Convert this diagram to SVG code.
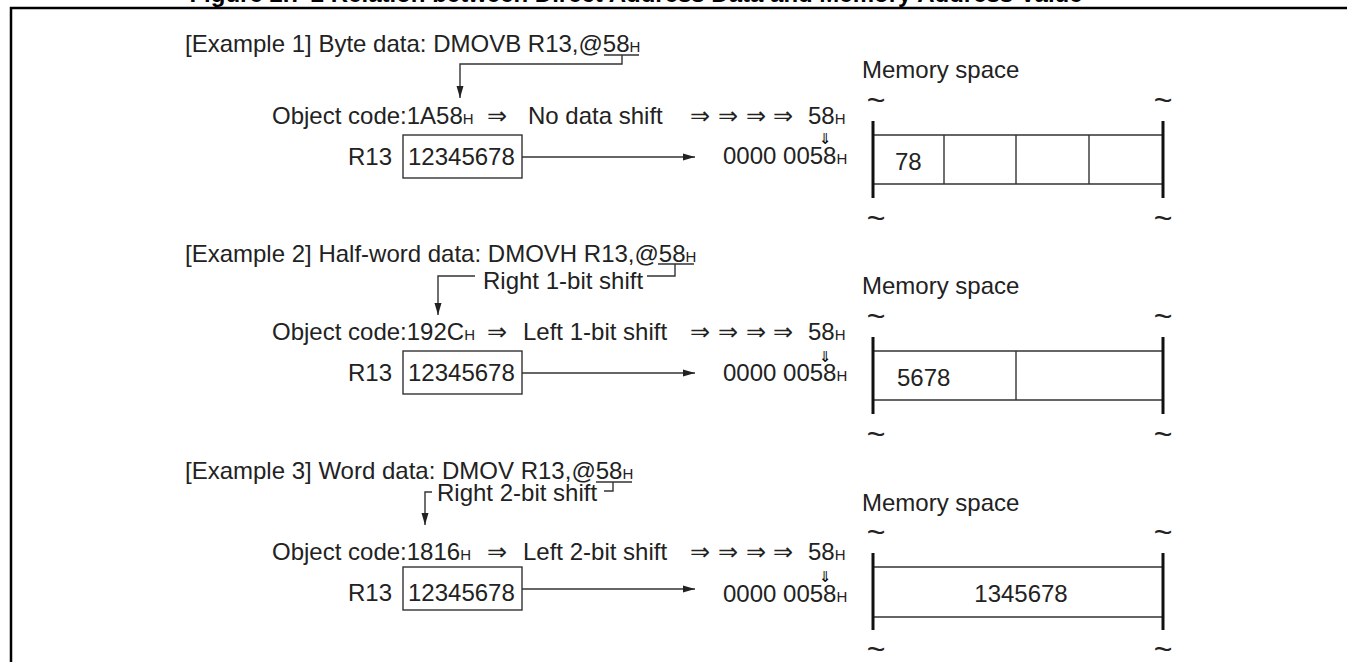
<svg xmlns="http://www.w3.org/2000/svg" width="1347" height="662" viewBox="0 0 1347 662">
<style>
text{font-family:"Liberation Sans","DejaVu Sans",Arial,sans-serif;fill:#222;font-size:24px}
.t{font-size:24px;font-weight:bold;fill:#000}
.h{font-size:15px}
.s{font-family:"DejaVu Sans","Noto Sans",sans-serif;font-size:15px;fill:#000}
.tl{font-size:32px}
.ln{stroke:#333;stroke-width:1.4;fill:none}
.bar{stroke:#111;stroke-width:3;fill:none}
.frame{stroke:#000;stroke-width:2.5;fill:none}
.box{stroke:#333;stroke-width:1.4;fill:#fff}
</style>
<defs>
<marker id="ah" markerUnits="userSpaceOnUse" markerWidth="12" markerHeight="8" refX="12" refY="4" orient="auto">
<path d="M0,0.5 L12,4 L0,7.5 z" fill="#222"/>
</marker>
</defs>
<rect width="1347" height="662" fill="#fff"/>
<g id="title"><text class="t" x="636" y="2" text-anchor="middle">Figure 2.7-2 Relation between Direct Address Data and Memory Address Value</text></g>
<g id="frame"><path class="frame" d="M11,662 V8 H1347"/></g>

<!-- Example 1 -->
<g id="ex1-header"><text x="185" y="52">[Example 1] Byte data: DMOVB R13,@58<tspan class="h">H</tspan></text></g>
<g id="ex1-code"><text x="272" y="124">Object code:1A58<tspan class="h">H</tspan></text>
<text x="497" y="124" text-anchor="middle">⇒</text>
<text x="528" y="124">No data shift</text>
<text x="700" y="124" text-anchor="middle">⇒</text><text x="728" y="124" text-anchor="middle">⇒</text><text x="756" y="124" text-anchor="middle">⇒</text><text x="783" y="124" text-anchor="middle">⇒</text>
<text x="808" y="124">58<tspan class="h">H</tspan></text>
<text class="s" x="825" y="144" text-anchor="middle">⇓</text></g>
<g id="ex1-r13"><text x="348" y="165">R13</text><rect class="box" x="403" y="135" width="119" height="43"/><text x="408" y="165">12345678</text></g>
<g id="ex1-addr"><text x="723" y="164">0000 0058<tspan class="h">H</tspan></text></g>
<g id="ex1-memory">
<text x="862" y="78">Memory space</text>
<text class="tl" x="876" y="111" text-anchor="middle">~</text><text class="tl" x="1163" y="111" text-anchor="middle">~</text>
<path class="ln" d="M873,135 H1163 M873,184 H1163 M944,135 V184 M1016,135 V184 M1089,135 V184"/>
<path class="bar" d="M873,121 V198 M1163,121 V198"/>
<text x="895" y="170">78</text>
<text class="tl" x="876" y="229" text-anchor="middle">~</text><text class="tl" x="1163" y="229" text-anchor="middle">~</text>
</g>

<!-- Example 2 -->
<g id="ex2-header"><text x="185" y="262">[Example 2] Half-word data: DMOVH R13,@58<tspan class="h">H</tspan></text>
<text x="483" y="289">Right 1-bit shift</text></g>
<g id="ex2-code"><text x="272" y="340">Object code:192C<tspan class="h">H</tspan></text>
<text x="497" y="340" text-anchor="middle">⇒</text>
<text x="523" y="340">Left 1-bit shift</text>
<text x="700" y="340" text-anchor="middle">⇒</text><text x="728" y="340" text-anchor="middle">⇒</text><text x="756" y="340" text-anchor="middle">⇒</text><text x="783" y="340" text-anchor="middle">⇒</text>
<text x="808" y="340">58<tspan class="h">H</tspan></text>
<text class="s" x="825" y="362" text-anchor="middle">⇓</text></g>
<g id="ex2-r13"><text x="348" y="381">R13</text><rect class="box" x="403" y="351" width="119" height="43"/><text x="408" y="381">12345678</text></g>
<g id="ex2-addr"><text x="723" y="381">0000 0058<tspan class="h">H</tspan></text></g>
<g id="ex2-memory">
<text x="862" y="294">Memory space</text>
<text class="tl" x="876" y="327" text-anchor="middle">~</text><text class="tl" x="1163" y="327" text-anchor="middle">~</text>
<path class="ln" d="M873,351 H1163 M873,400 H1163 M1016,351 V400"/>
<path class="bar" d="M873,337 V414 M1163,337 V414"/>
<text x="897" y="386">5678</text>
<text class="tl" x="876" y="445" text-anchor="middle">~</text><text class="tl" x="1163" y="445" text-anchor="middle">~</text>
</g>

<!-- Example 3 -->
<g id="ex3-header"><text x="185" y="479">[Example 3] Word data: DMOV R13,@58<tspan class="h">H</tspan></text>
<text x="437" y="501">Right 2-bit shift</text></g>
<g id="ex3-code"><text x="272" y="560">Object code:1816<tspan class="h">H</tspan></text>
<text x="497" y="560" text-anchor="middle">⇒</text>
<text x="523" y="560">Left 2-bit shift</text>
<text x="700" y="560" text-anchor="middle">⇒</text><text x="728" y="560" text-anchor="middle">⇒</text><text x="756" y="560" text-anchor="middle">⇒</text><text x="783" y="560" text-anchor="middle">⇒</text>
<text x="808" y="560">58<tspan class="h">H</tspan></text>
<text class="s" x="825" y="582" text-anchor="middle">⇓</text></g>
<g id="ex3-r13"><text x="348" y="601">R13</text><rect class="box" x="403" y="567" width="119" height="43"/><text x="408" y="601">12345678</text></g>
<g id="ex3-addr"><text x="723" y="602">0000 0058<tspan class="h">H</tspan></text></g>
<g id="ex3-memory">
<text x="862" y="511">Memory space</text>
<text class="tl" x="876" y="543" text-anchor="middle">~</text><text class="tl" x="1163" y="543" text-anchor="middle">~</text>
<path class="ln" d="M873,567 H1163 M873,617 H1163"/>
<path class="bar" d="M873,553 V630 M1163,553 V630"/>
<text x="1021" y="602" text-anchor="middle">1345678</text>
<text class="tl" x="876" y="660" text-anchor="middle">~</text><text class="tl" x="1163" y="660" text-anchor="middle">~</text>
</g>

<g id="connectors">
<path class="ln" d="M604,55 H639 M622,55 V64 H460 V98" marker-end="url(#ah)"/>
<path class="ln" d="M522,157 H695" marker-end="url(#ah)"/>
<path class="ln" d="M658,264 H694 M675,264 V276 H647"/>
<path class="ln" d="M475,276 H438 V315" marker-end="url(#ah)"/>
<path class="ln" d="M522,373 H695" marker-end="url(#ah)"/>
<path class="ln" d="M596,482 H632 M613,482 V491 H604"/>
<path class="ln" d="M432,492 H425 V525" marker-end="url(#ah)"/>
<path class="ln" d="M522,589 H695" marker-end="url(#ah)"/>
</g>
</svg>
